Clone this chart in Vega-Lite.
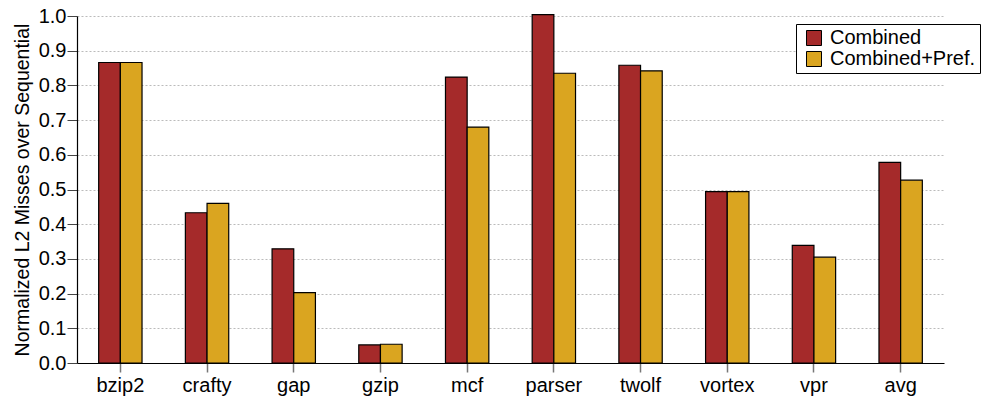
{
  "$schema": "https://vega.github.io/schema/vega-lite/v6.json",
  "width": 867,
  "height": 347,
  "autosize": {"type": "none"},
  "padding": {"left": 77, "top": 16, "right": 42, "bottom": 38},
  "background": "white",
  "config": {
    "font": "Liberation Sans",
    "view": {"stroke": null},
    "axis": {"labelFont": "Liberation Sans", "titleFont": "Liberation Sans"}
  },
  "data": {
    "values": [
      {"benchmark": "bzip2", "config": "Combined", "value": 0.866},
      {"benchmark": "bzip2", "config": "Combined+Pref.", "value": 0.866},
      {"benchmark": "crafty", "config": "Combined", "value": 0.433},
      {"benchmark": "crafty", "config": "Combined+Pref.", "value": 0.46},
      {"benchmark": "gap", "config": "Combined", "value": 0.329},
      {"benchmark": "gap", "config": "Combined+Pref.", "value": 0.203},
      {"benchmark": "gzip", "config": "Combined", "value": 0.052},
      {"benchmark": "gzip", "config": "Combined+Pref.", "value": 0.054},
      {"benchmark": "mcf", "config": "Combined", "value": 0.824},
      {"benchmark": "mcf", "config": "Combined+Pref.", "value": 0.68},
      {"benchmark": "parser", "config": "Combined", "value": 1.004},
      {"benchmark": "parser", "config": "Combined+Pref.", "value": 0.835},
      {"benchmark": "twolf", "config": "Combined", "value": 0.858},
      {"benchmark": "twolf", "config": "Combined+Pref.", "value": 0.842},
      {"benchmark": "vortex", "config": "Combined", "value": 0.494},
      {"benchmark": "vortex", "config": "Combined+Pref.", "value": 0.494},
      {"benchmark": "vpr", "config": "Combined", "value": 0.339},
      {"benchmark": "vpr", "config": "Combined+Pref.", "value": 0.305},
      {"benchmark": "avg", "config": "Combined", "value": 0.578},
      {"benchmark": "avg", "config": "Combined+Pref.", "value": 0.527}
    ]
  },
  "mark": {"type": "bar", "stroke": "black", "strokeWidth": 1.2},
  "encoding": {
    "x": {
      "field": "benchmark",
      "type": "nominal",
      "sort": null,
      "scale": {"paddingInner": 0.5, "paddingOuter": 0.25},
      "axis": {
        "title": null,
        "labelAngle": 0,
        "labelFontSize": 20,
        "labelColor": "black",
        "labelPadding": 3,
        "tickSize": 9,
        "tickColor": "#777777",
        "tickWidth": 1.5,
        "domainColor": "black",
        "domainWidth": 1.2,
        "grid": false
      }
    },
    "xOffset": {
      "field": "config",
      "type": "nominal",
      "scale": {"paddingInner": 0, "paddingOuter": 0}
    },
    "y": {
      "field": "value",
      "type": "quantitative",
      "scale": {"domain": [0, 1.0], "nice": false, "clamp": false},
      "axis": {
        "title": "Normalized L2 Misses over Sequential",
        "titleFontSize": 19.5,
        "titleFontWeight": "normal",
        "titleColor": "black",
        "titlePadding": 6,
        "values": [0, 0.1, 0.2, 0.3, 0.4, 0.5, 0.6, 0.7, 0.8, 0.9, 1.0],
        "format": ".1f",
        "labelFontSize": 20,
        "labelColor": "black",
        "labelPadding": 1,
        "tickSize": 10,
        "tickColor": "#444444",
        "domainColor": "black",
        "domainWidth": 1.2,
        "grid": true,
        "gridColor": "#bbbbbb",
        "gridDash": [2, 2],
        "gridWidth": 1
      }
    },
    "color": {
      "field": "config",
      "type": "nominal",
      "scale": {"domain": ["Combined", "Combined+Pref."], "range": ["#A52A2A", "#DAA520"]},
      "legend": {
        "title": null,
        "orient": "none",
        "legendX": 719,
        "legendY": 8,
        "symbolType": "square",
        "symbolSize": 225,
        "symbolStrokeColor": "black",
        "symbolStrokeWidth": 1,
        "symbolOpacity": 1,
        "symbolOffset": 4,
        "labelFontSize": 20,
        "labelColor": "black",
        "labelOffset": 6,
        "rowPadding": 1,
        "strokeColor": "black",
        "fillColor": "white",
        "padding": 4,
        "cornerRadius": 0
      }
    }
  }
}
